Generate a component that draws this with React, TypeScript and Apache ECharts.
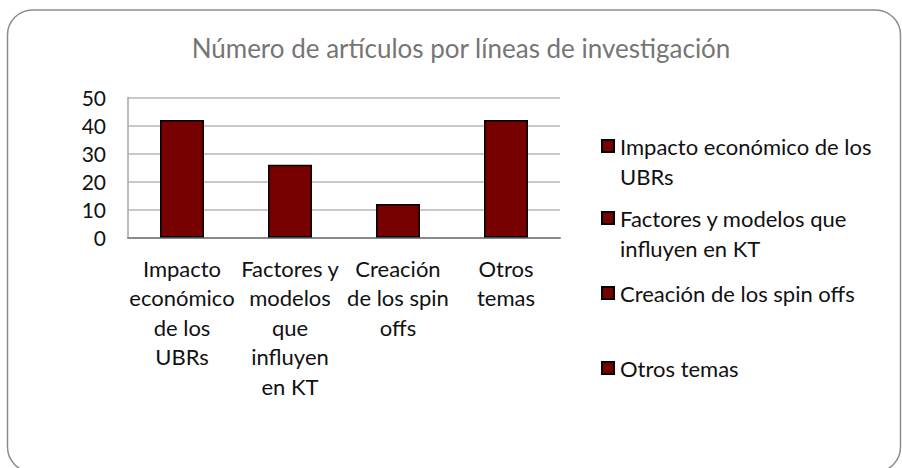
import React, { useEffect, useRef } from "react";
import * as echarts from "echarts";

const categories = [
  "Impacto económico de los UBRs",
  "Factores y modelos que influyen en KT",
  "Creación de los spin offs",
  "Otros temas",
];
const categoryLabels = [
  "Impacto\neconómico\nde los\nUBRs",
  "Factores y\nmodelos\nque\ninfluyen\nen KT",
  "Creación\nde los spin\noffs",
  "Otros\ntemas",
];
const legendLabels = [
  "Impacto económico de los\nUBRs",
  "Factores y modelos que\ninfluyen en KT",
  "Creación de los spin offs",
  "Otros temas",
];
const values = [42, 26, 12, 42];
const yTicks = { min: 0, max: 50, interval: 10 };
const titleText = "Número de artículos por líneas de investigación";

const FONT = "Lato, 'Open Sans', sans-serif";
const BAR_COLOR = "#770000";

export default function App() {
  const ref = useRef<HTMLDivElement>(null);
  useEffect(() => {
    if (!ref.current) return;
    const chart = echarts.init(ref.current, undefined, { renderer: "svg" });
    const legendTops = [146, 218, 293, 368];
    const series = categories.map((name, i) => ({
      name,
      type: "bar",
      stack: "all",
      barWidth: 44,
      itemStyle: { color: BAR_COLOR, borderColor: "#000", borderWidth: 1.5 },
      data: values.map((v, j) => (j === i ? v : "-")),
    }));
    const legends = categories.map((name, i) => {
      const lines = legendLabels[i].split("\n");
      const twoLine = lines.length > 1;
      return {
        data: [name],
        left: 601,
        top: twoLine ? legendTops[i] - 45 : legendTops[i] - 15,
        icon: "rect",
        itemWidth: 12,
        itemHeight: 12,
        itemGap: 0,
        padding: 0,
        selectedMode: false,
        formatter: () => (twoLine ? "\n" + legendLabels[i] : legendLabels[i]),
        textStyle: {
          fontFamily: FONT,
          fontSize: 22,
          color: "#111",
          lineHeight: 30,
          padding: [0, 0, 0, 1],
        },
      };
    });
    chart.setOption({
      animation: false,
      backgroundColor: "#fff",
      title: {
        text: titleText,
        left: 456,
        textAlign: "center",
        top: 30,
        textStyle: { fontFamily: FONT, fontSize: 26, fontWeight: "normal", color: "#767676" },
      },
      legend: legends,
      grid: { left: 128, right: 342, top: 97.5, bottom: 230.5, containLabel: false },
      xAxis: {
        type: "category",
        data: categories,
        axisLine: { show: true, lineStyle: { color: "#8a8a8a", width: 2 } },
        axisTick: { show: false },
        axisLabel: {
          interval: 0,
          margin: 16,
          fontFamily: FONT,
          fontSize: 22,
          color: "#111",
          lineHeight: 29.5,
          align: "center",
          formatter: (_v: string, idx: number) => categoryLabels[idx],
        },
      },
      yAxis: {
        type: "value",
        min: yTicks.min,
        max: yTicks.max,
        interval: yTicks.interval,
        axisLine: { show: true, lineStyle: { color: "#a6a6a6", width: 1.5 } },
        axisTick: { show: false },
        splitLine: { show: true, lineStyle: { color: "#c8c8c8", width: 2 } },
        axisLabel: { margin: 22, fontFamily: FONT, fontSize: 21, color: "#111" },
      },
      graphic: [
        {
          type: "rect",
          silent: true,
          z: -10,
          shape: { x: 7.5, y: 10, width: 893, height: 462, r: 25 },
          style: { fill: "none", stroke: "#8c8c8c", lineWidth: 1.5 },
        },
      ],
      series,
    });
    return () => chart.dispose();
  }, []);
  return (
    <div
      ref={ref}
      style={{ position: "absolute", left: 0, top: 0, width: 902, height: 468 }}
    />
  );
}
